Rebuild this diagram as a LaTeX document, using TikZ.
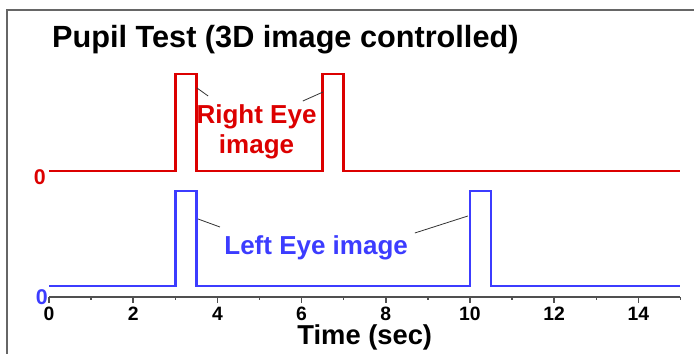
\documentclass[tikz,border=0pt]{standalone}
\usepackage{fontspec}
\setmainfont{Liberation Sans}
\usetikzlibrary{calc}
\definecolor{eyered}{RGB}{220,0,0}
\definecolor{eyeblue}{RGB}{60,60,255}
\definecolor{axisgray}{RGB}{80,80,80}

\begin{document}
\begin{tikzpicture}[x=31.575pt,y=0.75pt,
	trace/.style={line width=1.9pt,line join=miter},
	leader/.style={line width=0.6pt,black!80},
	ticklbl/.style={font=\fontsize{14.5}{16}\selectfont\bfseries,inner sep=0pt},
	zerolbl/.style={font=\fontsize{16}{18}\selectfont\bfseries,inner sep=0pt}]
		\useasboundingbox (-1.164,0) rectangle (15.321,354);
		% frame of the screenshot
		\draw[line width=1.1pt,black!60] (-0.998,0) -- (-0.998,344) -- (15.321,344);
		\node[anchor=base west,inner sep=0pt,font=\fontsize{23}{26}\selectfont\bfseries] (title) at (0.07,306) {Pupil Test (3D image controlled)};
		% time axis
		\draw[line width=1.3pt,axisgray] (0,57) -- (15,57);
		\foreach \x in {0,2,...,14}
		{\draw[line width=1.1pt,axisgray] (\x,57) -- (\x,51);
			\node[ticklbl] (t\x) at (\x,40) {\x};
		}
		\foreach \x in {1,3,...,15}
		{\draw[line width=1.1pt,axisgray] (\x,57) -- (\x,54);}
		\node[anchor=base,font=\fontsize{20.5}{22}\selectfont\bfseries,inner sep=0pt] (tlabel) at (7.5,9) {Time (sec)};
		% right eye trace
		\draw[trace,eyered] (0,183) -- (3,183) -- (3,280) -- (3.5,280) -- (3.5,183) -- (6.5,183) -- (6.5,280) -- (7,280) -- (7,183) -- (15,183);
		\node[zerolbl,text=eyered] (rzero) at (-0.22,177) {0};
		\node[text=eyered,align=center,inner sep=0pt,font=\fontsize{19.5}{22.5}\selectfont\bfseries] (rlabel) at (4.93,222) {Right Eye\\image};
		% left eye trace
		\draw[trace,eyeblue] (0,68) -- (3,68) -- (3,163) -- (3.5,163) -- (3.5,68) -- (10,68) -- (10,163) -- (10.5,163) -- (10.5,68) -- (15,68);
		\node[zerolbl,text=eyeblue] (bzero) at (-0.17,57) {0};
		\node[text=eyeblue,anchor=base west,inner sep=0pt,font=\fontsize{19.5}{22.5}\selectfont\bfseries] (blabel) at (4.16,99) {Left Eye image};
		% leader lines
		\coordinate (rp1) at (3.515,266);
		\coordinate (rl1) at (3.78,258);
		\coordinate (rp2) at (6.51,262);
		\coordinate (rl2) at (6.03,253);
		\coordinate (bp1) at (3.54,135);
		\coordinate (bl1) at (4.06,127);
		\coordinate (bp2) at (9.95,138);
		\coordinate (bl2) at (8.69,121);
		\draw[leader] (rp1) -- (rl1);
		\draw[leader] (rp2) -- (rl2);
		\draw[leader] (bp1) -- (bl1);
		\draw[leader] (bp2) -- (bl2);
\end{tikzpicture}
\end{document}
